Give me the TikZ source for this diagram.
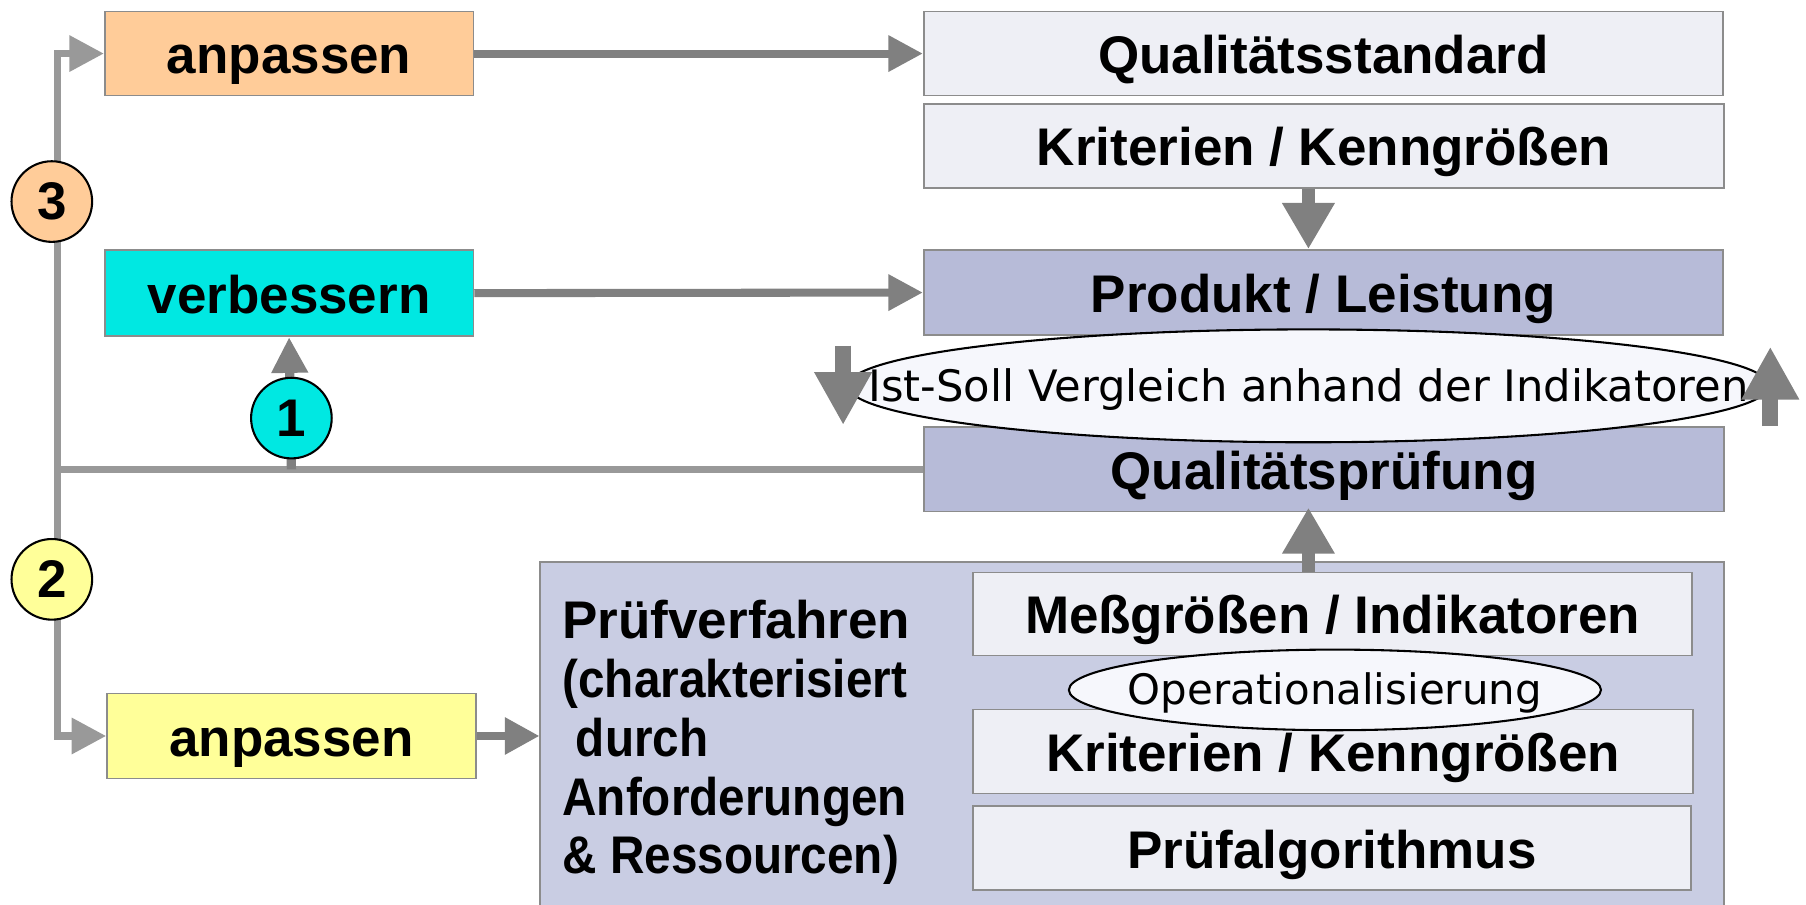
\documentclass[tikz,border=0pt]{standalone}
\usepackage{fontspec}
\setmainfont{Liberation Sans}
\newfontfamily\dv{DejaVu Sans}
\usetikzlibrary{arrows.meta,shapes.geometric}
\definecolor{peach}{HTML}{FFCC99}
\definecolor{cyanbox}{HTML}{00E8E2}
\definecolor{yelbox}{HTML}{FFFF99}
\definecolor{lightbox}{HTML}{EEEFF5}
\definecolor{bluebox}{HTML}{B7BBD8}
\definecolor{bigbox}{HTML}{C9CDE3}
\definecolor{ellfill}{HTML}{F6F7FC}
\definecolor{bordgray}{HTML}{8C8C8C}
\definecolor{darkarrow}{HTML}{808080}
\definecolor{lightline}{HTML}{999999}
\tikzset{
  box/.style={draw=bordgray, line width=0.75pt, inner sep=0pt,
    font=\fontsize{23}{25.5}\selectfont\bfseries, text height=21.8pt, text depth=4.4pt},
  numcirc/.style={circle, draw=black, line width=0.9pt, minimum size=35pt, inner sep=0pt,
    font=\fontsize{23}{25.5}\selectfont\bfseries},
  ell/.style={ellipse, draw=black, line width=0.9pt, fill=ellfill, inner sep=0pt},
  elltext/.style={inner sep=0pt, text depth=0pt},
  harrow/.style={draw=darkarrow, line width=3.5pt, -{Triangle[length=15pt,width=15pt]}},
  larrow/.style={draw=lightline, line width=3.3pt, -{Triangle[length=15pt,width=15pt]}},
  lline/.style={draw=lightline, line width=3.3pt},
  bigarrow/.style={draw=darkarrow, line width=6pt, -{Triangle[length=20pt,width=21.5pt]}},
  ellarrow/.style={draw=darkarrow, line width=7pt, -{Triangle[length=23pt,width=23.5pt]}},
}
\newcommand{\cnd}[1]{\scalebox{0.9}[1]{#1}}
\begin{document}
\begin{tikzpicture}[x=0.5pt,y=-0.5pt]
\useasboundingbox (0,0) rectangle (1568,785);
% boxes
\node[box, fill=peach, minimum width=160pt, minimum height=36.5pt] (anp3) at (251,46.5) {anpassen};
\node[box, fill=lightbox, minimum width=347pt, minimum height=36.5pt] (qstd) at (1149,46.5) {Qualitätsstandard};
\node[box, fill=lightbox, minimum width=347.5pt, minimum height=36.5pt] (krit1) at (1149.5,126.5) {Kriterien / Kenngrößen};
\node[box, fill=cyanbox, minimum width=160pt, minimum height=37.5pt] (verb) at (251,254.5) {verbessern};
\node[box, fill=bluebox, minimum width=347pt, minimum height=37pt] (prod) at (1149,254) {Produkt / Leistung};
\node[box, fill=bluebox, minimum width=347.5pt, minimum height=36.5pt] (qp) at (1149.5,407.5) {Qualitätsprüfung};
\node[box, fill=bigbox, minimum width=514pt, minimum height=151pt] (pvbox) at (983,639) {};
\node[anchor=north west, align=left, inner sep=0pt, font=\fontsize{23}{25.5}\selectfont\bfseries] (pvtext) at (488,521)
  {Prüfverfahren\\\cnd{(charakterisiert}\\\cnd{\hspace*{0.28em}durch}\\\cnd{Anforderungen}\\\cnd{\& Ressourcen)}};
\node[box, fill=lightbox, minimum width=312pt, minimum height=36pt] (mess) at (1157,533) {Meßgrößen / Indikatoren};
\node[box, fill=lightbox, minimum width=312.5pt, minimum height=36.5pt] (krit2) at (1157.5,652.5) {Kriterien / Kenngrößen};
\node[box, fill=lightbox, minimum width=311.5pt, minimum height=36.5pt] (algo) at (1156.5,736.5) {Prüfalgorithmus};
\node[box, fill=yelbox, minimum width=160pt, minimum height=37pt] (anp2) at (253,639) {anpassen};
% connectors
\coordinate (jL) at (50,407.5);
\coordinate (j1) at (253,407.5);
\coordinate (col) at (1136,0);
\draw[harrow] (anp3.east) -- (qstd.west);
\draw[harrow] (verb.east) -- (prod.west);
\draw[lline] (qp.west) -- (jL);
\draw[larrow] (jL) |- (anp3.west);
\draw[larrow] (jL) |- (anp2.west);
\draw[draw=darkarrow, line width=4pt, -{Triangle[length=15.5pt,width=15pt]}] (j1) -- (verb.south);
\draw[draw=darkarrow, line width=3.2pt, -{Triangle[length=15pt,width=15.5pt]}] (anp2.east) -- (pvbox.west);
\draw[bigarrow] (krit1.south -| col) -- (prod.north -| col);
\draw[bigarrow, shorten >=-2pt] (mess.north -| col) -- (qp.south -| col);
% circles
\node[numcirc, fill=peach] (c3) at (45,175) {3};
\node[numcirc, fill=cyanbox] (c1) at (253,363) {1};
\node[numcirc, fill=yelbox] (c2) at (45,503) {2};
% ellipses
\node[ell, minimum width=400pt, minimum height=49pt] (cmp) at (1136,335) {};
\node[elltext, text height=14pt, font=\dv\fontsize{18.8}{22}\selectfont] (cmptext) at (cmp.center) {Ist-Soll Vergleich anhand der Indikatoren};
\node[ell, minimum width=231pt, minimum height=35pt] (op) at (1159,599) {};
\node[elltext, text height=13pt, font=\dv\fontsize{18.2}{22}\selectfont] (optext) at (op.center) {Operationalisierung};
\coordinate (la1) at (732,300);
\coordinate (la2) at (732,369);
\coordinate (ra1) at (1537,370);
\coordinate (ra2) at (1537,301);
\draw[ellarrow] (la1) -- (la2);
\draw[ellarrow] (ra1) -- (ra2);
\end{tikzpicture}
\end{document}
